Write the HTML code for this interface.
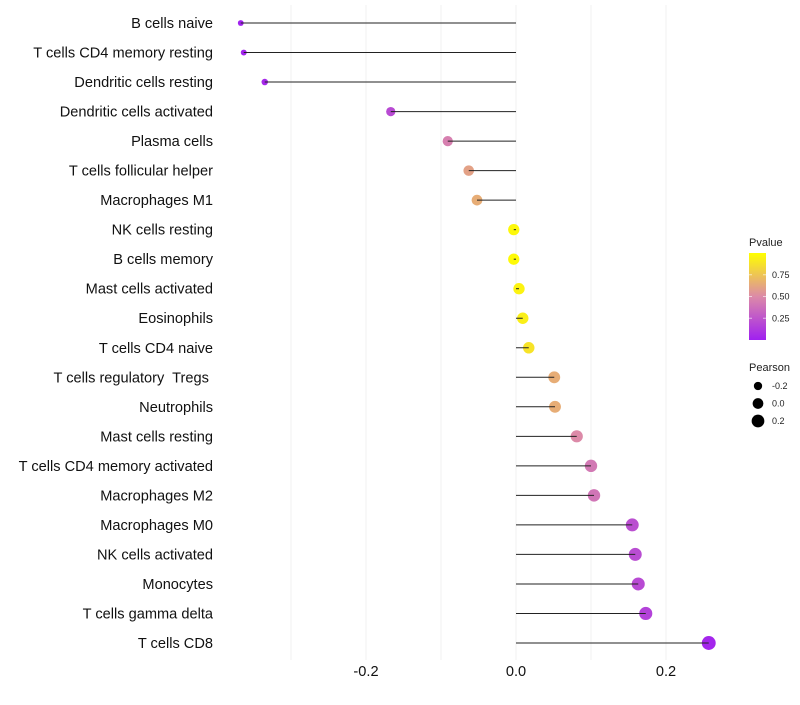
<!DOCTYPE html>
<html><head><meta charset="utf-8"><style>
body{margin:0;background:#fff;font-family:"Liberation Sans",sans-serif}
</style></head><body>
<svg id="chart" width="800" height="700" xmlns="http://www.w3.org/2000/svg">
<defs><linearGradient id="pg" x1="0" y1="1" x2="0" y2="0">
<stop offset="0" stop-color="#a020f0"/><stop offset="0.5" stop-color="#dc8aa8"/><stop offset="1" stop-color="#ffff00"/></linearGradient></defs>
<g id="grid"></g>
<g id="marks"></g>
<g id="ylab"></g>
<g id="xlab"></g>
<g>
<text x="749" y="246" font-size="11" fill="#222">Pvalue</text>
<rect x="749" y="253" width="17" height="87" fill="url(#pg)"/>
<g id="cbticks"></g>
</g>
<g id="sizeleg">
<text x="749" y="371" font-size="11" fill="#222">Pearson</text>
</g>
</svg>
<script>
const categories=["B cells naive","T cells CD4 memory resting","Dendritic cells resting","Dendritic cells activated","Plasma cells","T cells follicular helper","Macrophages M1","NK cells resting","B cells memory","Mast cells activated","Eosinophils","T cells CD4 naive","T cells regulatory\u00a0 Tregs\u00a0","Neutrophils","Mast cells resting","T cells CD4 memory activated","Macrophages M2","Macrophages M0","NK cells activated","Monocytes","T cells gamma delta","T cells CD8"];
const pearson=[-0.367,-0.363,-0.335,-0.167,-0.091,-0.063,-0.052,-0.003,-0.003,0.004,0.009,0.017,0.051,0.052,0.081,0.1,0.104,0.155,0.159,0.163,0.173,0.257];
const pvalues=[0.01,0.02,0.04,0.2,0.45,0.6,0.65,0.97,0.98,0.95,0.93,0.88,0.65,0.65,0.5,0.42,0.4,0.22,0.21,0.2,0.16,0.03];
const xTicks=[-0.2,0.0,0.2];
const xTickLabels=["-0.2","0.0","0.2"];
const cbTicks=[0.25,0.5,0.75];
const cbLabels=["0.25","0.50","0.75"];
const sizeLegend=[-0.2,0.0,0.2];
const sizeLegendLabels=["-0.2","0.0","0.2"];
const NS="http://www.w3.org/2000/svg";
const x=v=>516+v*750;
const y=i=>23+i*(620/21);
const r=v=>Math.sqrt(Math.max(2.5,32+64*v));
function col(p){const s=[[160,32,240],[220,138,168],[255,255,0]];let a,b,t;if(p<0.5){a=s[0];b=s[1];t=p/0.5}else{a=s[1];b=s[2];t=(p-0.5)/0.5}return `rgb(${a.map((c,k)=>Math.round(c+(b[k]-c)*t)).join(',')})`}
function mk(tag,at,par){const e=document.createElementNS(NS,tag);for(const k in at)e.setAttribute(k,at[k]);par.appendChild(e);return e}
const grid=document.getElementById('grid');
[-0.3,-0.2,-0.1,0,0.1,0.2].forEach(v=>{const l=mk('line',{x1:x(v),x2:x(v),y1:5,y2:660,stroke:'#f0f0f0','stroke-width':1},grid);});
const marks=document.getElementById('marks'),ylab=document.getElementById('ylab'),xlab=document.getElementById('xlab');
categories.forEach((c,i)=>{
 const d=mk('circle',{cx:x(pearson[i]),cy:y(i),r:r(pearson[i]),fill:col(pvalues[i])},marks);
 
 
 const l=mk('line',{x1:x(0),x2:x(pearson[i]),y1:y(i),y2:y(i),stroke:'#222','stroke-width':1},marks);
 
 
 const t=mk('text',{x:213,y:y(i)+5,'text-anchor':'end','font-size':14.6,fill:'#111'},ylab);t.textContent=c;
 
 
});
xTicks.forEach((v,i)=>{const t=mk('text',{x:x(v),y:676,'text-anchor':'middle','font-size':14.6,fill:'#111'},xlab);t.textContent=xTickLabels[i];
 
 });
const cb=document.getElementById('cbticks');
cbTicks.forEach((v,i)=>{const yy=340-v*87;mk('line',{x1:749,x2:752,y1:yy,y2:yy,stroke:'#fff','stroke-opacity':0.6},cb);mk('line',{x1:763,x2:766,y1:yy,y2:yy,stroke:'#fff','stroke-opacity':0.6},cb);
 const t=mk('text',{x:772,y:yy+3,'font-size':9,fill:'#222'},cb);t.textContent=cbLabels[i];
 
 });
const sl=document.getElementById('sizeleg');
sizeLegend.forEach((v,i)=>{const yy=386+i*17.5;const c=mk('circle',{cx:758,cy:yy,r:r(v)*0.95,fill:'#000'},sl);
 
 
 const t=mk('text',{x:772,y:yy+3,'font-size':9,fill:'#222'},sl);t.textContent=sizeLegendLabels[i];
 
 });
</script>
</body></html>
